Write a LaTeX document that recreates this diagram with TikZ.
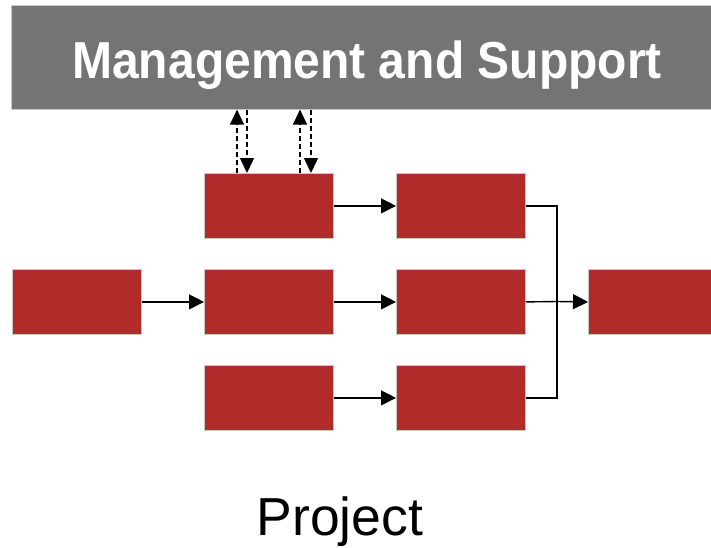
\documentclass[tikz,border=0pt]{standalone}
\usepackage{fontspec}
\setmainfont{Liberation Sans}
\usetikzlibrary{arrows.meta}
\definecolor{barGray}{HTML}{747474}
\definecolor{taskRed}{HTML}{B22B2B}
\definecolor{edgeGray}{HTML}{C8C8C8}
\begin{document}
\begin{tikzpicture}[x=1pt,y=-1pt,
  task/.style={draw=edgeGray, line width=0.8pt, fill=taskRed, minimum width=129pt, minimum height=65pt, inner sep=0pt, anchor=north west},
  flow/.style={line width=1.4pt, -{Triangle[length=15pt,width=15pt]}},
  link/.style={line width=1.4pt},
  comm/.style={line width=1.4pt, dash pattern=on 5pt off 3pt, -{Triangle[length=15pt,width=14pt]}}]
\useasboundingbox (0,0) rectangle (711,547);
% management bar
\node[fill=barGray, draw=edgeGray, line width=0.6pt, minimum width=700pt, minimum height=104pt, inner sep=0pt, anchor=north west] (mgmt) at (11,5) {};
\node[text=white, font=\bfseries\fontsize{50}{54}\selectfont, xscale=0.96, yscale=1.04] (mgmtlabel) at (367,65) {Management and Support};
% task boxes
\node[task] (start) at (12,269) {};
\node[task] (a1) at (204,173) {};
\node[task] (a2) at (204,269) {};
\node[task] (a3) at (204,365) {};
\node[task] (b1) at (396,173) {};
\node[task] (b2) at (396,269) {};
\node[task] (b3) at (396,365) {};
\node[task, minimum width=124pt] (finish) at (588,269) {};
% merge point
\coordinate (join) at (557,301.5);
% flows
\draw[flow] (start.east) -- (a2.west);
\draw[flow] (a1.east) -- (b1.west);
\draw[flow] (a2.east) -- (b2.west);
\draw[flow] (a3.east) -- (b3.west);
\draw[link] (b1.east) -| (join);
\draw[link] (b3.east) -| (join);
\draw[link] (b2.east) -- (join);
\draw[flow] (join) -- (finish.west);
% management interaction (requests up, directions down)
\draw[comm] ([xshift=33pt]a1.north west) -- ([xshift=33pt]a1.north west |- mgmt.south);
\draw[comm] ([xshift=43pt]a1.north west |- mgmt.south) -- ([xshift=43pt]a1.north west);
\draw[comm] ([xshift=96pt]a1.north west) -- ([xshift=96pt]a1.north west |- mgmt.south);
\draw[comm] ([xshift=107pt]a1.north west |- mgmt.south) -- ([xshift=107pt]a1.north west);
% caption
\node[font=\fontsize{53.5}{58}\selectfont] (caption) at (340,522) {Project};
\end{tikzpicture}
\end{document}
